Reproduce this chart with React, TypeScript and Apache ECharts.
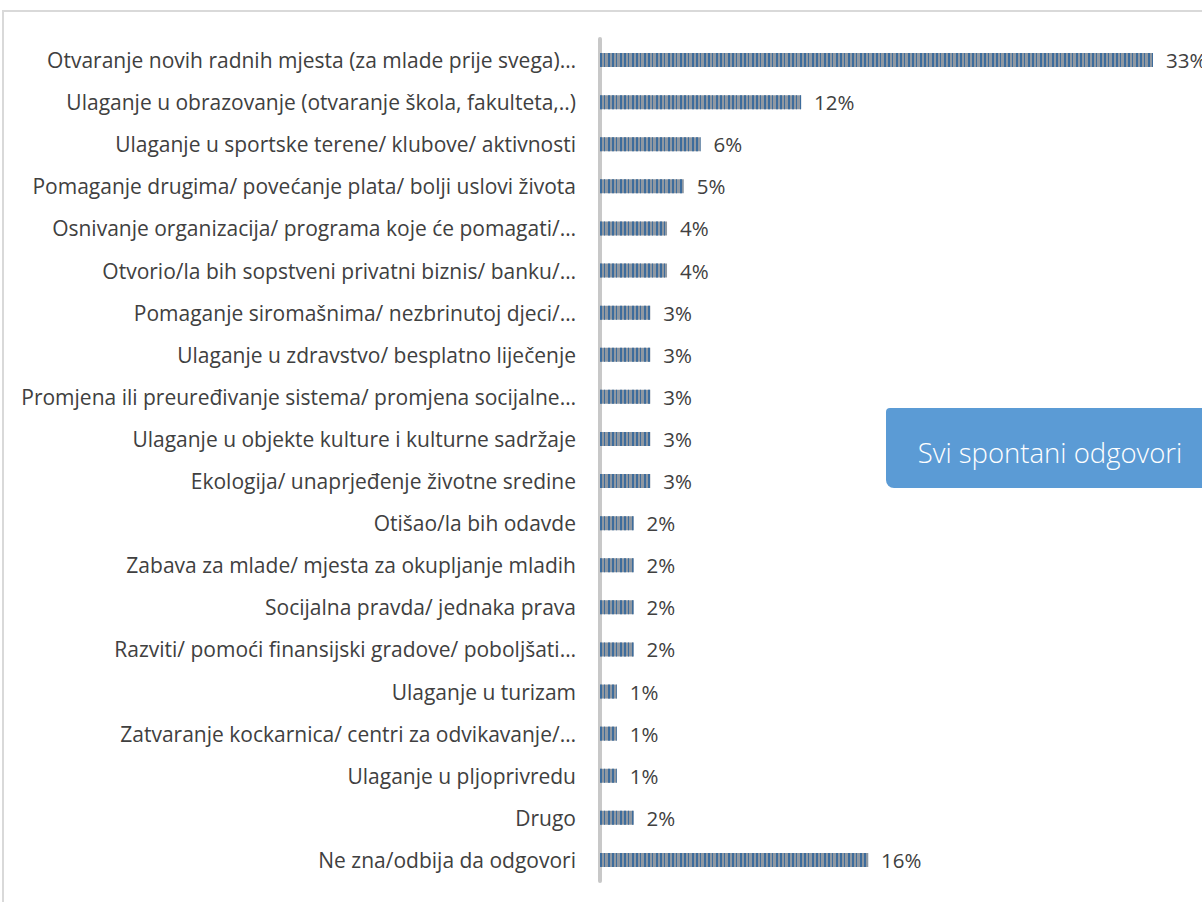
import React, { useEffect, useRef } from "react";
import * as echarts from "echarts";

const categories = [
  "Otvaranje novih radnih mjesta (za mlade prije svega)…",
  "Ulaganje u obrazovanje (otvaranje škola, fakulteta,..)",
  "Ulaganje u sportske terene/ klubove/ aktivnosti",
  "Pomaganje drugima/ povećanje plata/ bolji uslovi života",
  "Osnivanje organizacija/ programa koje će pomagati/…",
  "Otvorio/la bih sopstveni privatni biznis/ banku/…",
  "Pomaganje siromašnima/ nezbrinutoj djeci/…",
  "Ulaganje u zdravstvo/ besplatno liječenje",
  "Promjena ili preuređivanje sistema/ promjena socijalne…",
  "Ulaganje u objekte kulture i kulturne sadržaje",
  "Ekologija/ unaprjeđenje životne sredine",
  "Otišao/la bih odavde",
  "Zabava za mlade/ mjesta za okupljanje mladih",
  "Socijalna pravda/ jednaka prava",
  "Razviti/ pomoći finansijski gradove/ poboljšati…",
  "Ulaganje u turizam",
  "Zatvaranje kockarnica/ centri za odvikavanje/…",
  "Ulaganje u pljoprivredu",
  "Drugo",
  "Ne zna/odbija da odgovori",
];

const values = [33, 12, 6, 5, 4, 4, 3, 3, 3, 3, 3, 2, 2, 2, 2, 1, 1, 1, 2, 16];

const boxTitle = "Svi spontani odgovori";

export default function App() {
  const ref = useRef<HTMLDivElement>(null);
  useEffect(() => {
    document.body.style.margin = "0";
    const chart = echarts.init(ref.current!, null, { renderer: "svg" });
    const font = "'Open Sans', sans-serif";
    chart.setOption({
      animation: false,
      backgroundColor: "#ffffff",
      grid: { left: 600, right: 49, top: 39, bottom: 21, containLabel: false },
      xAxis: { type: "value", min: 0, max: 33, show: false },
      yAxis: {
        type: "category",
        data: categories,
        inverse: true,
        axisTick: { show: false },
        axisLine: { show: true, lineStyle: { color: "#c8c8c8", width: 4 } },
        axisLabel: { margin: 24, color: "#404040", fontSize: 21, fontFamily: font },
        splitLine: { show: false },
      },
      series: [
        {
          type: "bar",
          data: values,
          barWidth: 14,
          itemStyle: {
            color: "#8f98a2",
            decal: {
              symbol: "rect",
              symbolSize: 1,
              color: "#3d6c9c",
              dashArrayX: [[2, 2, 1, 3, 2, 2]],
              dashArrayY: [20, 0],
              rotation: 0,
            },
          },
          label: {
            show: true,
            position: "right",
            distance: 13,
            formatter: "{c}%",
            color: "#404040",
            fontSize: 20.5,
            fontFamily: font,
          },
        },
      ],
      graphic: [
        {
          type: "rect",
          shape: { x: 3, y: 11, width: 1400, height: 1000 },
          style: { fill: "none", stroke: "#d9d9d9", lineWidth: 2 },
          silent: true,
        },
        {
          type: "rect",
          shape: { x: 886, y: 408, width: 330, height: 80, r: [4, 0, 0, 8] },
          style: { fill: "#5b9bd5" },
        },
        {
          type: "text",
          x: 1050,
          y: 452,
          style: {
            text: boxTitle,
            fill: "#ffffff",
            fontSize: 27.5,
            fontFamily: font,
            fontWeight: 300,
            align: "center",
            verticalAlign: "middle",
          },
        },
      ],
    });
    return () => chart.dispose();
  }, []);
  return <div ref={ref} style={{ width: 1202, height: 902 }} />;
}
